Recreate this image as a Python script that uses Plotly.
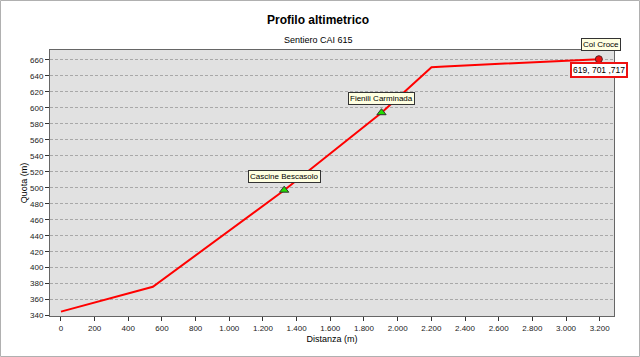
import plotly.graph_objects as go

# Profile data (distance in m, elevation in m)
dist = [0, 546, 1326, 1904, 2201, 2280, 3195]
quota = [345, 376, 497, 594, 651, 652, 661]

# Waypoints
wp_names = ["Cascine Bescasolo", "Fienili Carminada"]
wp_x = [1326, 1904]
wp_y = [497, 594]

end_name = "Col Croce"
end_x = [3195]
end_y = [661]
end_value = "619, 701 ,717"

x_ticks = list(range(0, 3201, 200))
y_ticks = list(range(340, 661, 20))

W, H = 640, 357
ML, MR, MT, MB = 50, 26, 50, 41
PW, PH = W - ML - MR, H - MT - MB
FONT = "Liberation Sans, Arial, sans-serif"

fig = go.Figure()
fig.add_trace(go.Scatter(x=dist, y=quota, mode="lines",
                         line=dict(color="#ff0000", width=2), hoverinfo="skip"))
fig.add_trace(go.Scatter(x=wp_x, y=wp_y, mode="markers",
                         marker=dict(symbol="triangle-up", size=8, color="#22dd00",
                                     line=dict(color="#333333", width=1))))
fig.add_trace(go.Scatter(x=end_x, y=end_y, mode="markers",
                         marker=dict(symbol="circle", size=7, color="#ee1111",
                                     line=dict(color="#552222", width=1))))

ann_font = dict(family=FONT, size=8, color="#000000")
for n, x, y in zip(wp_names, wp_x, wp_y):
    fig.add_annotation(x=x, y=y, text=n, showarrow=False, yshift=14,
                       bgcolor="#ffffe1", bordercolor="#333333", borderwidth=1,
                       borderpad=1, font=ann_font)
fig.add_annotation(x=end_x[0], y=end_y[0], text=end_name, showarrow=False, yshift=15,
                   xshift=2, bgcolor="#ffffe1", bordercolor="#333333", borderwidth=1,
                   borderpad=1, font=ann_font)
fig.add_annotation(x=end_x[0], y=end_y[0], text=end_value, showarrow=False, yshift=-11,
                   xshift=0, bgcolor="#ffffff", bordercolor="#ee1111", borderwidth=2,
                   borderpad=1, font=dict(family=FONT, size=8.5, color="#000000"))

# Titles
fig.add_annotation(xref="paper", yref="paper", x=(318 - ML) / PW, y=1 + (MT - 20) / PH,
                   xanchor="center", yanchor="middle",
                   text="<b>Profilo altimetrico</b>", showarrow=False,
                   font=dict(family=FONT, size=12, color="#000"))
fig.add_annotation(xref="paper", yref="paper", x=(318 - ML) / PW, y=1 + (MT - 40) / PH,
                   xanchor="center", yanchor="middle",
                   text="Sentiero CAI 615", showarrow=False,
                   font=dict(family=FONT, size=9, color="#000"))

# Outer frame
fig.add_shape(type="rect", xref="paper", yref="paper",
              x0=(-ML + 0.5) / PW, x1=1 + (MR - 0.5) / PW,
              y0=-(MB - 0.5) / PH, y1=1 + (MT - 0.5) / PH,
              line=dict(color="#b0b0b0", width=1), layer="below")

axis_font = dict(family=FONT, size=8, color="#222")
fig.update_layout(
    width=W, height=H,
    margin=dict(l=ML, r=MR, t=MT, b=MB),
    paper_bgcolor="#ffffff", plot_bgcolor="#e1e1e1",
    showlegend=False,
    separators=",.",
    xaxis=dict(range=[-65, 3285], tickvals=x_ticks, tickformat=",d",
               showgrid=False, zeroline=False, ticks="outside", ticklen=4,
               tickcolor="#333", showline=True, mirror=True, linecolor="#666",
               tickfont=axis_font,
               title=dict(text="Distanza (m)", standoff=4,
                          font=dict(family=FONT, size=9, color="#000"))),
    yaxis=dict(range=[339.5, 672.5], tickvals=y_ticks,
               showgrid=True, gridcolor="#a8a8a8", griddash="3px,2px", gridwidth=1,
               zeroline=False, ticks="outside", ticklen=4,
               tickcolor="#333", showline=True, mirror=True, linecolor="#666",
               tickfont=axis_font,
               title=dict(text="Quota (m)", standoff=0,
                          font=dict(family=FONT, size=9, color="#000"))),
)

fig.write_html("out.html")
